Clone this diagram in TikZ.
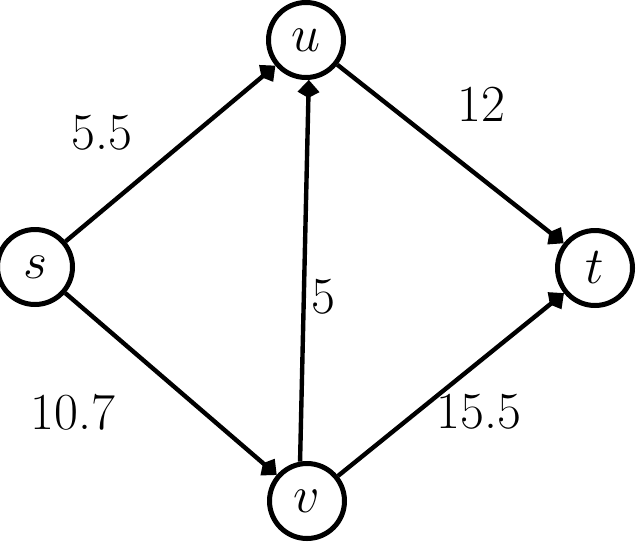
\documentclass[tikz,border=0pt]{standalone}
\usepackage{fix-cm}
\usepackage{fontspec}
\usepackage{amsmath}
\usetikzlibrary{positioning, arrows.meta}

\begin{document}
\begin{tikzpicture}[x=0.5pt, y=-0.5pt, line width=2.2pt, font=\fontsize{26}{30}\selectfont,
    main/.style = {draw, circle, line width=2.5pt, minimum size=37.5pt, inner sep=0pt, execute at begin node=$, execute at end node=$},
    >={Kite[length=9pt, width=11pt, inset=3pt]}]
    \useasboundingbox (0,0) rectangle (636,546);
        % Nodes
        \node[main] (s) at (35,267) {s};
        \node[main] (u) at (306,40) {u};
        \node[main] (t) at (595,268) {t};
        \node[main] (v) at (307,501) {v};

        % Lines
        \draw[->] (s) -- (u);
        \draw[->] (s) -- (v);
        \draw[->] (u) -- (t);
        \draw[->] (v) -- (t);
        \draw[->] (v.100) -- (u.-86);

        % Weights
        \node (wsu) at (102,133) {5.5};
        \node (wut) at (481,104) {12};
        \node (wvu) at (323,297) {5};
        \node (wsv) at (73,412) {10.7};
        \node (wvt) at (479,412) {15.5};
\end{tikzpicture}
\end{document}
